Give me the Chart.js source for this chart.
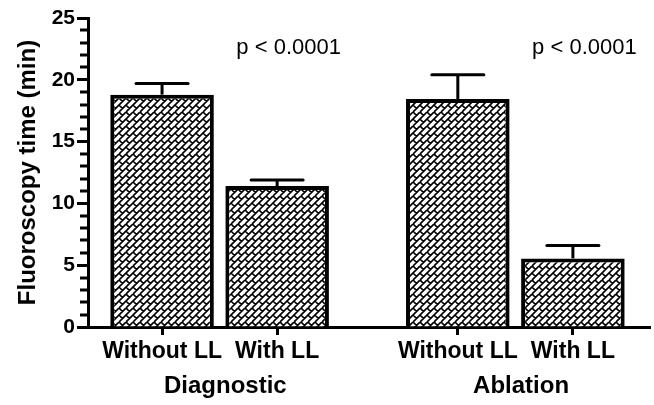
<!DOCTYPE html>
<html>
<head>
<meta charset="utf-8">
<script src="https://cdn.jsdelivr.net/npm/chart.js@4/dist/chart.umd.min.js"></script>
<style>
  html, body { margin: 0; padding: 0; background: #fff; }
  #wrap { width: 654px; height: 405px; }
</style>
</head>
<body>
<div id="wrap"><canvas id="grafico"></canvas></div>
<script>
/* =====================================================
   Datos
===================================================== */
const BAR_LABELS = ["Without LL", "With LL", "Without LL", "With LL"]
const GROUPS     = ["Diagnostic", "Ablation"]
const MEANS      = [18.8, 11.4, 18.45, 5.55]
const SEM        = [0.9, 0.5, 1.95, 1.05]
const P_TEXT     = ["p < 0.0001", "p < 0.0001"]
const Y_TICKS    = [0, 5, 10, 15, 20, 25]

const GAP = 0.57   // separación extra entre grupos
const xOf = i => i + 1 + (i >= 2 ? GAP : 0)

const FONT = "'Liberation Sans', Arial, sans-serif"
Chart.defaults.color = "#000"
Chart.defaults.font.family = FONT

/* =====================================================
   Relleno tramado (ladrillos diagonales)
===================================================== */
function tramado() {
  const s = 14
  const c = document.createElement("canvas")
  c.width = c.height = s
  const g = c.getContext("2d")
  g.fillStyle = "#fff"
  g.fillRect(0, 0, s, s)
  g.strokeStyle = "#000"
  g.lineWidth = 1.7
  g.beginPath()
  for (let a = -14; a <= 35; a += 7) {
    g.moveTo(a, 0); g.lineTo(a - s, s)
  }
  for (let a = -14; a <= 35; a += 7) {
    const par = ((a % 14) + 14) % 14
    for (let d = -28; d <= 28; d += 14) {
      const dd = d + par
      g.moveTo((a + dd) / 2, (a - dd) / 2)
      g.lineTo((a + 7 + dd) / 2, (a + 7 - dd) / 2)
    }
  }
  g.stroke()
  return g.createPattern(c, "repeat")
}

/* =====================================================
   Barras de error, marcas menores y textos
===================================================== */
const extras = {
  id: "extras",
  afterDatasetsDraw(chart) {
    const { ctx, scales: { x, y } } = chart
    ctx.save()
    ctx.strokeStyle = "#000"
    ctx.lineWidth = 3

    // barras de error
    MEANS.forEach((m, i) => {
      const px = x.getPixelForValue(xOf(i))
      const top = y.getPixelForValue(m)
      const end = y.getPixelForValue(m + SEM[i])
      ctx.lineCap = "butt"
      ctx.beginPath()
      ctx.moveTo(px, top); ctx.lineTo(px, end)
      ctx.stroke()
      ctx.lineCap = "round"
      ctx.beginPath()
      ctx.moveTo(px - 26, end); ctx.lineTo(px + 26, end)
      ctx.stroke()
    })

    // marcas menores del eje y
    ctx.lineCap = "butt"
    const ax = chart.chartArea.left
    for (let v = 0; v <= 25; v++) {
      if (v % 5 === 0) continue
      const py = Math.round(y.getPixelForValue(v))
      ctx.beginPath()
      ctx.moveTo(ax - 8, py); ctx.lineTo(ax, py)
      ctx.stroke()
    }

    // textos p y nombres de grupo
    ctx.fillStyle = "#000"
    ctx.textAlign = "center"
    ctx.textBaseline = "middle"
    ctx.font = "22px " + FONT
    P_TEXT.forEach((t, k) => {
      ctx.fillText(t, x.getPixelForValue(xOf(2 * k + 1) + 0.1), y.getPixelForValue(22.6))
    })
    ctx.font = "bold 24px " + FONT
    GROUPS.forEach((t, k) => {
      const mid = (xOf(2 * k) + xOf(2 * k + 1)) / 2 + 0.05
      ctx.fillText(t, x.getPixelForValue(mid), y.getPixelForValue(0) + 59)
    })
    ctx.restore()
  }
}

new Chart(document.getElementById("grafico"), {
  type: "bar",
  data: {
    datasets: [{
      data: MEANS.map((m, i) => ({ x: xOf(i), y: m })),
      backgroundColor: tramado(),
      borderColor: "#000",
      borderWidth: 4,
      barPercentage: 0.9,
      categoryPercentage: 1,
    }]
  },
  options: {
    responsive: true,
    maintainAspectRatio: false,
    animation: false,
    layout: { padding: { top: 18, right: 4, left: 0, bottom: 0 } },
    plugins: { legend: { display: false }, tooltip: { enabled: false } },
    scales: {
      x: {
        type: "linear",
        offset: false,
        min: 0.3565,
        max: 5.24,
        afterBuildTicks: s => { s.ticks = BAR_LABELS.map((_, i) => ({ value: xOf(i) })) },
        afterFit: s => { s.height = 78 },
        ticks: {
          autoSkip: false,
          maxRotation: 0,
          padding: 3,
          font: { size: 23, weight: "bold" },
          callback: (v, i) => BAR_LABELS[i],
        },
        grid: { drawOnChartArea: false, offset: false, tickLength: 8, tickWidth: 3, tickColor: "#000" },
        border: { color: "#000", width: 3 },
      },
      y: {
        min: 0,
        max: 25,
        afterBuildTicks: s => { s.ticks = Y_TICKS.map(v => ({ value: v })) },
        afterFit: s => { s.width = 88 },
        ticks: { padding: 2, font: { size: 21, weight: "bold" } },
        grid: { drawOnChartArea: false, tickLength: 11, tickWidth: 3, tickColor: "#000" },
        border: { color: "#000", width: 3 },
        title: {
          display: true,
          text: "Fluoroscopy time (min)",
          font: { size: 24, weight: "bold" },
          padding: { top: 14, bottom: 4 },
        },
      }
    }
  },
  plugins: [extras]
})
</script>
</body>
</html>
